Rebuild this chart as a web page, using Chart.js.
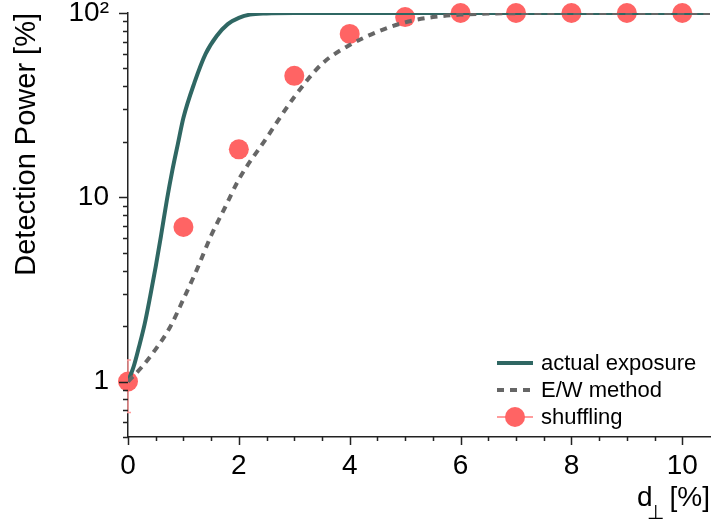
<!DOCTYPE html>
<html>
<head>
<meta charset="utf-8">
<script src="https://cdn.jsdelivr.net/npm/chart.js@4.4.1/dist/chart.umd.min.js"></script>
<style>
  html, body { margin: 0; padding: 0; background: #fff; }
  #wrap { width: 712px; height: 522px; }
</style>
</head>
<body>
<div id="wrap"><canvas id="powerChart"></canvas></div>
<script>
// actual exposure curve
const actualX = [0, 0.1, 0.2, 0.3, 0.4, 0.5, 0.6, 0.7, 0.8, 0.9, 1.0, 1.2, 1.4, 1.6, 1.8, 2.0, 2.2, 2.5, 3, 4, 5, 6, 7, 8, 9, 10, 10.5];
const actualY = [1, 1.2, 1.55, 2.05, 2.9, 4.2, 6.3, 9.6, 14, 19.5, 27, 42, 60, 75, 87, 94, 98, 99.5, 100, 100, 100, 100, 100, 100, 100, 100, 100];

// E/W method curve
const ewX = [0, 0.25, 0.5, 0.75, 1, 1.25, 1.5, 1.75, 2, 2.5, 3, 3.5, 4, 4.5, 5, 5.5, 6, 6.5, 7, 8, 9, 10, 10.5];
const ewY = [1, 1.2, 1.5, 1.95, 2.8, 4.1, 6.2, 8.8, 12.5, 21, 35, 53, 67, 79, 89, 95, 98, 99.3, 99.8, 100, 100, 100, 100];

// shuffling points with error bars
const shufX = [0, 1, 2, 3, 4, 5, 6, 7, 8, 9, 10];
const shufY = [1, 6.9, 18.2, 45.6, 77, 95, 100, 100, 100, 100, 100];
const shufLo = [0.68, 6.9, 18.2, 45.6, 77, 95, 100, 100, 100, 100, 100];
const shufHi = [1.31, 6.9, 18.2, 45.6, 77, 95, 100, 100, 100, 100, 100];

const seriesNames = ['actual exposure', 'E/W method', 'shuffling'];
const xMajor = [0, 2, 4, 6, 8, 10];
const yMajor = [1, 10, 100];
const yMajorLabels = ['1', '10', '10²'];

const FONT = '"Liberation Sans", Arial, sans-serif';
const TEAL = '#2f6763';
const GREY = '#666666';
const RED = '#ff6464';
const PINK = '#ff9c9c';

const toPts = (xs, ys) => xs.map((x, i) => ({ x: x, y: ys[i] }));

// error bars under the markers
const errorBars = {
  id: 'errorBars',
  beforeDatasetsDraw(chart) {
    const { ctx, chartArea, scales } = chart;
    const meta = chart.getDatasetMeta(2);
    ctx.save();
    ctx.beginPath();
    ctx.rect(chartArea.left - 1, chartArea.top - 20, chartArea.right - chartArea.left + 21, chartArea.bottom - chartArea.top + 20);
    ctx.clip();
    ctx.strokeStyle = PINK;
    ctx.lineWidth = 1.5;
    meta.data.forEach((pt, i) => {
      const lo = scales.y.getPixelForValue(shufLo[i]);
      const hi = scales.y.getPixelForValue(shufHi[i]);
      if (Math.abs(lo - hi) < 1) return;
      ctx.beginPath();
      ctx.moveTo(pt.x, lo); ctx.lineTo(pt.x, hi);
      ctx.moveTo(pt.x - 3, lo); ctx.lineTo(pt.x + 3, lo);
      ctx.moveTo(pt.x - 3, hi); ctx.lineTo(pt.x + 3, hi);
      ctx.stroke();
    });
    ctx.restore();
  }
};

// tick marks, axis titles and legend
const decor = {
  id: 'decor',
  afterDraw(chart) {
    const { ctx, chartArea, scales } = chart;
    const xs = scales.x, ys = scales.y;
    ctx.save();
    ctx.strokeStyle = '#222';
    ctx.lineWidth = 1.5;
    ctx.beginPath();
    // y ticks
    for (let d = -1; d <= 2; d++) {
      for (let m = 1; m <= 9; m++) {
        const v = m * Math.pow(10, d);
        if (v < 0.5 || v > 100) continue;
        const py = Math.round(ys.getPixelForValue(v)) + 0.5;
        const len = m === 1 ? 9 : 5;
        ctx.moveTo(chartArea.left - len, py);
        ctx.lineTo(chartArea.left, py);
      }
    }
    // x ticks
    for (let v = 0; v <= 10; v += 0.5) {
      const px = Math.round(xs.getPixelForValue(v)) + 0.5;
      const len = v % 2 === 0 ? 8 : 4;
      ctx.moveTo(px, chartArea.bottom);
      ctx.lineTo(px, chartArea.bottom + len);
    }
    ctx.stroke();

    // y title
    ctx.fillStyle = '#000';
    ctx.font = '29px ' + FONT;
    ctx.save();
    ctx.translate(35, 13);
    ctx.rotate(-Math.PI / 2);
    ctx.textAlign = 'right';
    ctx.textBaseline = 'alphabetic';
    ctx.fillText('Detection Power [%]', 0, 0);
    ctx.restore();

    // x title: d⊥[%]
    ctx.textBaseline = 'alphabetic';
    ctx.textAlign = 'right';
    const right = chartArea.right;
    ctx.font = '28px ' + FONT;
    ctx.fillText('[%]', right, 506);
    const w1 = ctx.measureText('[%]').width;
    ctx.font = '20px ' + FONT;
    ctx.fillText('⊥', right - w1 - 6, 519);
    ctx.font = '28px ' + FONT;
    ctx.fillText('d', right - w1 - 17, 506);

    // legend
    const ds = chart.data.datasets;
    const lx0 = chartArea.right - 213, lx1 = chartArea.right - 177, tx = chartArea.right - 169;
    const rows = [chartArea.bottom - 74, chartArea.bottom - 47, chartArea.bottom - 20];
    ctx.font = '22px ' + FONT;
    ctx.textAlign = 'left';
    ctx.textBaseline = 'middle';
    rows.forEach((ry, i) => {
      const d = ds[i];
      ctx.save();
      if (i < 2) {
        ctx.strokeStyle = d.borderColor;
        ctx.lineWidth = d.borderWidth;
        ctx.setLineDash(d.borderDash || []);
        ctx.beginPath();
        ctx.moveTo(lx0, ry); ctx.lineTo(lx1, ry);
        ctx.stroke();
      } else {
        ctx.strokeStyle = PINK;
        ctx.lineWidth = 2;
        ctx.beginPath();
        ctx.moveTo(lx0, ry); ctx.lineTo(lx1, ry);
        ctx.stroke();
        ctx.fillStyle = d.backgroundColor;
        ctx.beginPath();
        ctx.arc((lx0 + lx1) / 2, ry, d.pointRadius, 0, Math.PI * 2);
        ctx.fill();
      }
      ctx.restore();
      ctx.fillStyle = '#000';
      ctx.fillText(seriesNames[i], tx, ry + 1);
    });
    ctx.restore();
  }
};

new Chart(document.getElementById('powerChart'), {
  type: 'line',
  data: {
    datasets: [
      {
        label: seriesNames[0],
        data: toPts(actualX, actualY),
        borderColor: TEAL,
        borderWidth: 4,
        pointRadius: 0,
        cubicInterpolationMode: 'monotone',
        order: 2
      },
      {
        label: seriesNames[1],
        data: toPts(ewX, ewY),
        borderColor: GREY,
        borderWidth: 4,
        borderDash: [7, 6],
        pointRadius: 0,
        cubicInterpolationMode: 'monotone',
        order: 1
      },
      {
        label: seriesNames[2],
        data: toPts(shufX, shufY),
        showLine: false,
        backgroundColor: RED,
        borderColor: RED,
        borderWidth: 0,
        pointRadius: 10,
        pointHoverRadius: 10,
        clip: false,
        order: 3
      }
    ]
  },
  options: {
    responsive: true,
    maintainAspectRatio: false,
    animation: false,
    events: [],
    layout: { autoPadding: false, padding: { top: 13, right: 2, left: 0, bottom: 0 } },
    plugins: { legend: { display: false }, tooltip: { enabled: false } },
    scales: {
      x: {
        type: 'linear',
        min: 0,
        max: 10.5,
        grid: { display: false, drawTicks: false },
        border: { display: true, color: '#222', width: 1.5 },
        afterBuildTicks: s => { s.ticks = xMajor.map(v => ({ value: v })); },
        afterFit: s => {
          s.height = 85;
          s.paddingLeft = 0; s.paddingRight = 0;
        },
        ticks: {
          padding: 12,
          color: '#000',
          font: { family: FONT, size: 28 },
          maxRotation: 0,
          autoSkip: false
        }
      },
      y: {
        type: 'logarithmic',
        min: 0.5,
        max: 100,
        grid: { display: false, drawTicks: false },
        border: { display: true, color: '#222', width: 1.5 },
        afterBuildTicks: s => { s.ticks = yMajor.map(v => ({ value: v })); },
        afterFit: s => {
          s.width = 128;
          s.paddingTop = 0; s.paddingBottom = 0;
        },
        ticks: {
          padding: 19,
          color: '#000',
          font: { family: FONT, size: 28 },
          autoSkip: false,
          callback: (v) => {
            const i = yMajor.indexOf(v);
            return i >= 0 ? yMajorLabels[i] : '';
          }
        }
      }
    }
  },
  plugins: [errorBars, decor]
});
</script>
</body>
</html>
